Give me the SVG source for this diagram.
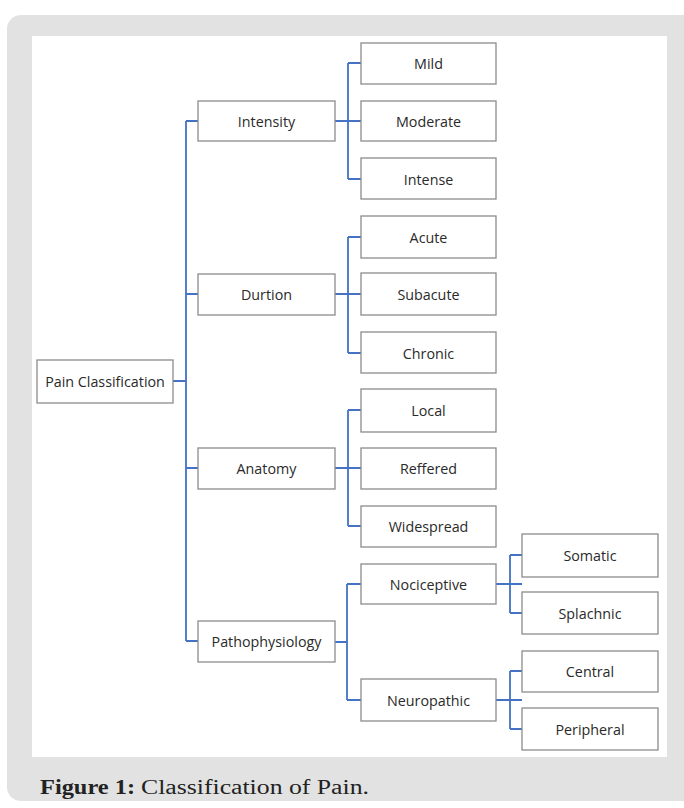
<svg xmlns="http://www.w3.org/2000/svg" width="684" height="808" viewBox="0 0 684 808">
<style>
.box{fill:#fff;stroke:#8c8c8c;stroke-width:1.3}
.t{font-family:"Open Sans","Noto Sans",sans-serif;font-size:14.3px;fill:#2a2a2a;text-anchor:middle;dominant-baseline:central}
.c{fill:none;stroke:#4472c4;stroke-width:1.8}
</style>
<rect x="0" y="0" width="684" height="808" fill="#fff"/>
<rect x="7" y="15" width="700" height="786" rx="14" fill="#e2e2e2"/>
<rect x="32" y="36" width="635" height="721" fill="#fff"/>
<g id="connectors">
<path class="c" d="M173 381H186M186 121V641M186 121H198M186 294H198M186 468H198M186 641H198"/>
<path class="c" d="M335 121H361M348 63V179M348 63H361M348 179H361"/>
<path class="c" d="M335 294H361M348 237V353M348 237H361M348 353H361"/>
<path class="c" d="M335 468H361M348 410V526M348 410H361M348 526H361"/>
<path class="c" d="M335 642H347M347 584V700M347 584H361M347 700H361"/>
<path class="c" d="M496 584H522M510 555V613M510 555H522M510 613H522"/>
<path class="c" d="M496 700H522M510 671V729M510 671H522M510 729H522"/>
</g>
<g id="pain"><rect class="box" x="37" y="360" width="136" height="43"/><text class="t" x="105" y="381">Pain Classification</text></g>
<g id="intensity"><rect class="box" x="198" y="101" width="137" height="40"/><text class="t" x="266.5" y="121">Intensity</text></g>
<g id="durtion"><rect class="box" x="198" y="274" width="137" height="41"/><text class="t" x="266.5" y="294">Durtion</text></g>
<g id="anatomy"><rect class="box" x="198" y="448" width="137" height="41"/><text class="t" x="266.5" y="468">Anatomy</text></g>
<g id="pathophysiology"><rect class="box" x="198" y="621" width="137" height="41"/><text class="t" x="266.5" y="641">Pathophysiology</text></g>
<g id="mild"><rect class="box" x="361" y="43" width="135" height="41"/><text class="t" x="428.5" y="63">Mild</text></g>
<g id="moderate"><rect class="box" x="361" y="101" width="135" height="40"/><text class="t" x="428.5" y="121">Moderate</text></g>
<g id="intense"><rect class="box" x="361" y="158" width="135" height="41"/><text class="t" x="428.5" y="179">Intense</text></g>
<g id="acute"><rect class="box" x="361" y="216" width="135" height="42"/><text class="t" x="428.5" y="237">Acute</text></g>
<g id="subacute"><rect class="box" x="361" y="273" width="135" height="42"/><text class="t" x="428.5" y="294">Subacute</text></g>
<g id="chronic"><rect class="box" x="361" y="332" width="135" height="41"/><text class="t" x="428.5" y="353">Chronic</text></g>
<g id="local"><rect class="box" x="361" y="389" width="135" height="43"/><text class="t" x="428.5" y="410">Local</text></g>
<g id="reffered"><rect class="box" x="361" y="448" width="135" height="41"/><text class="t" x="428.5" y="468">Reffered</text></g>
<g id="widespread"><rect class="box" x="361" y="506" width="135" height="41"/><text class="t" x="428.5" y="526">Widespread</text></g>
<g id="nociceptive"><rect class="box" x="361" y="564" width="135" height="40"/><text class="t" x="428.5" y="584">Nociceptive</text></g>
<g id="neuropathic"><rect class="box" x="361" y="679" width="135" height="42"/><text class="t" x="428.5" y="700">Neuropathic</text></g>
<g id="somatic"><rect class="box" x="522" y="534" width="136" height="43"/><text class="t" x="590" y="555">Somatic</text></g>
<g id="splachnic"><rect class="box" x="522" y="592" width="136" height="42"/><text class="t" x="590" y="613">Splachnic</text></g>
<g id="central"><rect class="box" x="522" y="651" width="136" height="41"/><text class="t" x="590" y="671">Central</text></g>
<g id="peripheral"><rect class="box" x="522" y="708" width="136" height="42"/><text class="t" x="590" y="729">Peripheral</text></g>
<text y="794" font-family="Liberation Serif, serif" font-size="20" fill="#222"><tspan x="40" font-weight="bold" textLength="95" lengthAdjust="spacingAndGlyphs">Figure 1:</tspan><tspan x="141" textLength="228" lengthAdjust="spacingAndGlyphs">Classification of Pain.</tspan></text>
</svg>
